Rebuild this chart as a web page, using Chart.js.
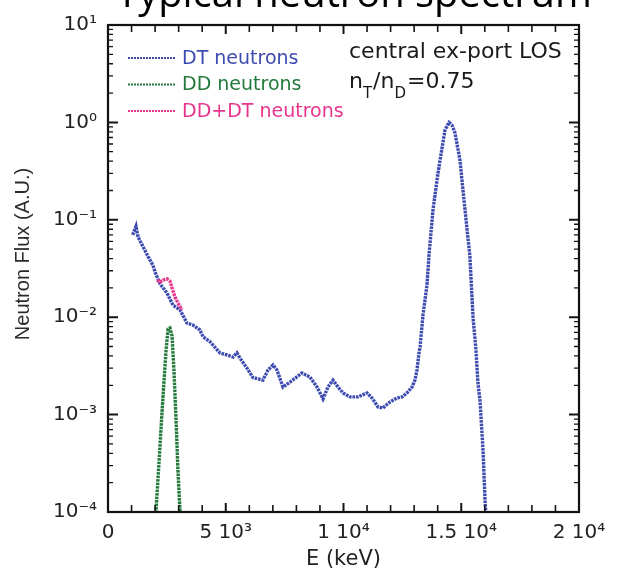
<!DOCTYPE html>
<html>
<head>
<meta charset="utf-8">
<script src="https://cdn.jsdelivr.net/npm/chart.js@4.4.1/dist/chart.umd.min.js"></script>
<style>
  html, body { margin: 0; padding: 0; background: #fff; }
  #wrap { position: relative; width: 625px; height: 578px; }
</style>
</head>
<body>
<div id="wrap"><canvas id="spectrum" width="625" height="578"></canvas></div>
<script>
// Neutron energies (keV) and relative flux for each component
const dtEnergy = [1050, 1190, 1275, 1485, 1700, 1910, 2000, 2210, 2505, 2760, 3055, 3355, 3610, 3905, 4035,
  4330, 4755, 5055, 5310, 5475, 5605, 5900, 6155, 6580, 6795, 7005, 7175, 7430, 7730, 8235, 8575, 8875,
  9130, 9340, 9555, 9765, 9980, 10275, 10615, 11000, 11210, 11465, 11675, 11975, 12270, 12485, 12695,
  12910, 13035, 13120, 13205, 13250, 13375, 13545, 13630, 13800, 13970, 14100, 14310, 14480, 14605,
  14735, 14945, 15160, 15370, 15500, 15625, 15710, 15795, 15925, 16010, 16050];
const dtFlux = [0.070, 0.086, 0.067, 0.053, 0.042, 0.034, 0.029, 0.022, 0.0177, 0.0133, 0.0119, 0.0087,
  0.0083, 0.0074, 0.0063, 0.0056, 0.0043, 0.0041, 0.0039, 0.0043, 0.0038, 0.0030, 0.0024, 0.00226,
  0.00287, 0.00323, 0.00287, 0.00192, 0.00216, 0.00267, 0.00243, 0.00192, 0.00145, 0.00192, 0.00226,
  0.00192, 0.00167, 0.00152, 0.00152, 0.00167, 0.00148, 0.00120, 0.00117, 0.00135, 0.00148, 0.00152,
  0.00167, 0.00192, 0.00226, 0.00287, 0.00429, 0.00494, 0.0105, 0.0214, 0.0436, 0.126, 0.256, 0.411,
  0.836, 1.0, 0.94, 0.778, 0.411, 0.126, 0.0415, 0.0100, 0.0046, 0.00211, 0.00141, 0.00043, 0.000133,
  0.00009];

const ddEnergy = [2020, 2040, 2125, 2210, 2295, 2380, 2465, 2550, 2630, 2720, 2800, 2890, 2970, 3055, 3090];
const ddFlux = [0.00007, 0.000105, 0.000223, 0.000488, 0.00106, 0.00226, 0.0046, 0.00757, 0.00774,
  0.00641, 0.00287, 0.00088, 0.00027, 0.000105, 0.00007];

const sumEnergy = [2080, 2210, 2335, 2505, 2630, 2720, 2845, 2970, 3140];
const sumFlux = [0.0241, 0.0230, 0.0241, 0.0247, 0.0235, 0.0200, 0.0161, 0.0140, 0.0119];

const seriesNames = ['DT neutrons', 'DD neutrons', 'DD+DT neutrons'];
const seriesColors = ['#3d4bb0', '#237a3c', '#e8358c'];

const xTickValues = [0, 5000, 10000, 15000, 20000];
const xTickLabels = ['0', '5 10³', '1 10⁴', '1.5 10⁴', '2 10⁴'];
const yTickValues = [1e-4, 1e-3, 1e-2, 1e-1, 1, 10];
const yTickLabels = ['10⁻⁴', '10⁻³', '10⁻²', '10⁻¹', '10⁰', '10¹'];

const chartTitle = 'Typical neutron spectrum';
const xAxisTitle = 'E (keV)';
const yAxisTitle = 'Neutron Flux (A.U.)';
const noteLine1 = 'central ex-port LOS';
// second note line: [text, isSubscript]
const noteLine2 = [['n', false], ['T', true], ['/n', false], ['D', true], ['=0.75', false]];

const toPoints = (xs, ys) => xs.map((v, i) => ({ x: v, y: ys[i] }));

const seriesData = [toPoints(dtEnergy, dtFlux), toPoints(ddEnergy, ddFlux), toPoints(sumEnergy, sumFlux)];
const drawOrder = [2, 1, 0];

const datasets = seriesNames.map((name, i) => ({
  label: name,
  data: seriesData[i],
  borderColor: seriesColors[i],
  backgroundColor: seriesColors[i],
  borderWidth: 3.4,
  borderDash: [2.6, 0.9],
  pointRadius: 0,
  tension: 0,
  fill: false,
  order: drawOrder[i]
}));

const PLOT_FONT = '"DejaVu Sans", sans-serif';

// Frame, inward tick marks and the free-standing texts
const frameAndText = {
  id: 'frameAndText',
  afterDraw(chart) {
    const { ctx, chartArea: a, scales: { x, y } } = chart;
    ctx.save();

    // inward ticks on all four sides
    ctx.strokeStyle = '#151515';
    for (let v = x.min; v <= x.max + 1e-6; v += 1000) {
      const px = x.getPixelForValue(v);
      const major = v % 5000 === 0;
      const len = major ? 9 : 7;
      ctx.lineWidth = major ? 2 : 1.6;
      ctx.beginPath();
      ctx.moveTo(px, a.bottom); ctx.lineTo(px, a.bottom - len);
      ctx.moveTo(px, a.top); ctx.lineTo(px, a.top + len);
      ctx.stroke();
    }
    for (let e = -4; e <= 1; e++) {
      for (let m = 1; m <= 9; m++) {
        const v = m * Math.pow(10, e);
        if (v > y.max * 1.0001) break;
        const py = y.getPixelForValue(v);
        const len = m === 1 ? 10 : 5;
        ctx.lineWidth = m === 1 ? 2 : 1.3;
        ctx.beginPath();
        ctx.moveTo(a.left, py); ctx.lineTo(a.left + len, py);
        ctx.moveTo(a.right, py); ctx.lineTo(a.right - len, py);
        ctx.stroke();
      }
    }
    ctx.lineWidth = 2.2;
    ctx.strokeStyle = '#111';
    ctx.strokeRect(a.left, a.top, a.right - a.left, a.bottom - a.top);

    // headline, partly cut by the top edge
    ctx.fillStyle = '#000';
    ctx.font = '40px "Open Sans", sans-serif';
    const w0 = ctx.measureText(chartTitle).width;
    const titleSize = 40 * 476 / w0;
    ctx.font = titleSize.toFixed(1) + 'px "Open Sans", sans-serif';
    ctx.textAlign = 'center';
    ctx.textBaseline = 'alphabetic';
    ctx.fillText(chartTitle, 354, 7);

    // vertical axis title
    ctx.save();
    ctx.translate(23, 254);
    ctx.rotate(-Math.PI / 2);
    ctx.font = '20px "Liberation Sans", Arial, sans-serif';
    ctx.fillStyle = '#2a2a2a';
    ctx.textAlign = 'center';
    ctx.textBaseline = 'middle';
    ctx.fillText(yAxisTitle, 0, 0);
    ctx.restore();

    // legend
    ctx.textAlign = 'left';
    ctx.textBaseline = 'middle';
    ctx.font = '19px ' + PLOT_FONT;
    chart.data.datasets.forEach((ds, i) => {
      const ly = 58 + i * 26.5;
      ctx.strokeStyle = ds.borderColor;
      ctx.lineWidth = 2.2;
      ctx.setLineDash([2, 1]);
      ctx.beginPath();
      ctx.moveTo(128, ly); ctx.lineTo(175, ly);
      ctx.stroke();
      ctx.setLineDash([]);
      ctx.fillStyle = ds.borderColor;
      ctx.fillText(ds.label, 182, ly + 1);
    });

    // run notes
    ctx.fillStyle = '#1a1a1a';
    ctx.textBaseline = 'alphabetic';
    ctx.font = '22px ' + PLOT_FONT;
    ctx.fillText(noteLine1, 349, 58);
    let nx = 349;
    noteLine2.forEach(([txt, sub]) => {
      ctx.font = (sub ? '15px ' : '22px ') + PLOT_FONT;
      ctx.fillText(txt, nx, sub ? 98 : 88);
      nx += ctx.measureText(txt).width + (sub ? 1 : 0);
    });

    ctx.restore();
  }
};

const matchIndex = (arr, v, useLog) => arr.findIndex(t =>
  useLog ? Math.abs(Math.log10(t) - Math.log10(v)) < 1e-6 : Math.abs(t - v) < 1e-6);

new Chart(document.getElementById('spectrum'), {
  type: 'line',
  data: { datasets },
  options: {
    responsive: false,
    devicePixelRatio: 1,
    animation: false,
    events: [],
    layout: { padding: { left: 0, top: 25, right: 46, bottom: 0 } },
    plugins: {
      legend: { display: false },
      title: { display: false },
      tooltip: { enabled: false }
    },
    scales: {
      x: {
        type: 'linear',
        min: 0,
        max: 20000,
        grid: { display: false, drawTicks: false },
        border: { display: false },
        afterFit(scale) { scale.height = 66; },
        ticks: {
          stepSize: 1000,
          autoSkip: false,
          maxRotation: 0,
          minRotation: 0,
          padding: 9,
          color: '#222',
          font: { family: PLOT_FONT, size: 20 },
          callback(value) {
            const i = matchIndex(xTickValues, value, false);
            return i >= 0 ? xTickLabels[i] : '';
          }
        },
        title: {
          display: true,
          text: xAxisTitle,
          color: '#222',
          font: { family: PLOT_FONT, size: 21 },
          padding: { top: 0, bottom: 6 }
        }
      },
      y: {
        type: 'logarithmic',
        min: 1e-4,
        max: 10,
        grid: { display: false, drawTicks: false },
        border: { display: false },
        afterFit(scale) { scale.width = 108; },
        ticks: {
          autoSkip: false,
          padding: 11,
          color: '#222',
          font: { family: PLOT_FONT, size: 20 },
          callback(value) {
            const i = matchIndex(yTickValues, value, true);
            return i >= 0 ? yTickLabels[i] : '';
          }
        }
      }
    }
  },
  plugins: [frameAndText]
});
</script>
</body>
</html>
